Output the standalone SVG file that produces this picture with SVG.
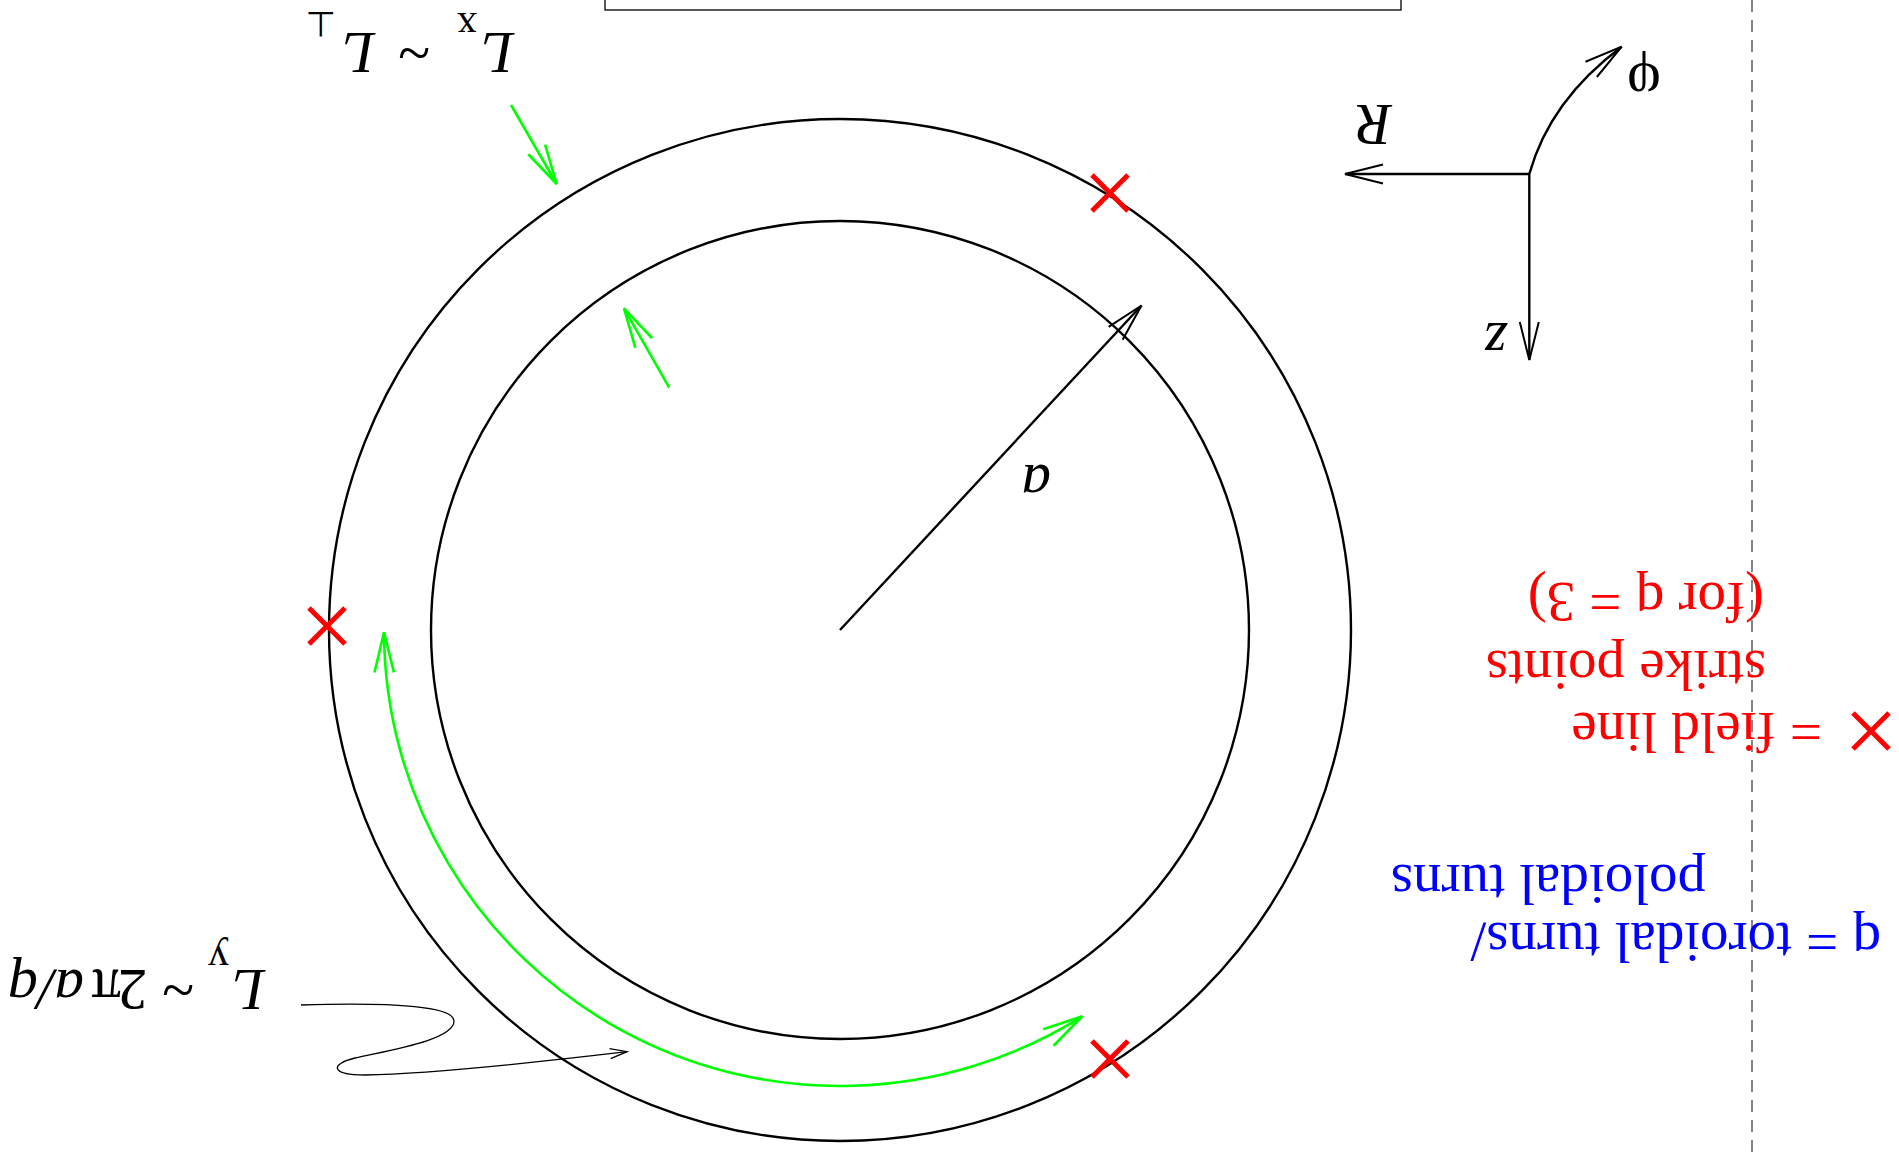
<svg xmlns="http://www.w3.org/2000/svg" width="1899" height="1152" viewBox="0 0 1899 1152">
<defs>
<style>
.blk{fill:none;stroke:#000;stroke-width:2.4}
.thin{fill:none;stroke:#000;stroke-width:1.3}
.grn{fill:none;stroke:#00ff00;stroke-width:2.6}
.xm{fill:none;stroke:#ff0000;stroke-width:5}
.t{font-family:"Liberation Serif","Times New Roman",serif;font-size:57px;fill:#000}
.m{font-size:59px}
.it{font-style:italic}
.red{fill:#ff0000}
.blue{fill:#0000ff}
</style>
<marker id="ab" markerUnits="userSpaceOnUse" viewBox="-42 -12 44 24" markerWidth="44" markerHeight="24" refX="0" refY="0" orient="auto"><path d="M-38,-9.5 L0,0 L-38,9.5" fill="none" stroke="#000" stroke-width="2"/></marker>
<marker id="ag" markerUnits="userSpaceOnUse" viewBox="-42 -12 44 24" markerWidth="44" markerHeight="24" refX="0" refY="0" orient="auto-start-reverse"><path d="M-40,-9.7 L0,0 L-40,9.7" fill="none" stroke="#00ff00" stroke-width="2.6"/></marker>
<marker id="as" markerUnits="userSpaceOnUse" viewBox="-20 -7 22 14" markerWidth="22" markerHeight="14" refX="0" refY="0" orient="auto"><path d="M-17,-5 L0,0 L-17,5" fill="none" stroke="#000" stroke-width="1.3"/></marker>
<g id="x"><path d="M-18,-18 L18,18 M-18,18 L18,-18"/></g>
</defs>
<rect width="1899" height="1152" fill="#fff"/>

<g id="frame-box"><rect x="605" y="-5" width="796" height="15" fill="none" stroke="#000" stroke-width="1.3"/></g>
<g id="axis-line"><path d="M1752,0 L1752,1152" fill="none" stroke="#444" stroke-width="1.3" stroke-dasharray="12 8"/></g>

<g id="outer-surface"><circle cx="840" cy="630" r="511" class="blk"/></g>
<g id="inner-surface"><circle cx="840" cy="630" r="409" class="blk"/></g>

<g id="strike-points" class="xm">
<use href="#x" x="1110" y="193"/>
<use href="#x" x="327" y="626"/>
<use href="#x" x="1110" y="1059"/>
</g>

<g id="connectors">
<path id="radius" class="blk" d="M840,630 L1141.5,305.5" marker-end="url(#ab)"/>
<path id="axis-R" class="blk" d="M1529.3,174 L1345,174" marker-end="url(#ab)"/>
<path id="axis-z" class="blk" d="M1529.3,174 L1529.3,360" marker-end="url(#ab)"/>
<path id="axis-phi" class="blk" d="M1529.3,174 Q1550,100 1621.7,46.7" marker-end="url(#ab)"/>
<path id="green-Lx" class="grn" d="M511,105 L556.7,184" marker-end="url(#ag)"/>
<path id="green-in" class="grn" d="M669.2,387.7 L624,308.3" marker-end="url(#ag)"/>
<path id="green-Ly" class="grn" d="M384,632.4 A456,456 0 0 0 1082.3,1016.3" marker-start="url(#ag)" marker-end="url(#ag)"/>
<path id="pointer-Ly" class="thin" d="M301,1005 C400,1002 454,1007 454,1021 C454,1040 390,1050 355,1058 C330,1064 330,1075 365,1075 C430,1074 540,1062 627,1051.7" marker-end="url(#as)"/>
</g>

<g id="legend-x" class="xm"><use href="#x" x="1871" y="731"/></g>

<g id="labels" transform="rotate(180 949.5 576)">
<text id="lbl-Ly" class="t m" y="182"><tspan class="it" x="1634">L</tspan><tspan x="1670" y="206" style="font-size:42px">y</tspan><tspan x="1705" y="182">~ 2</tspan><tspan x="1778">π</tspan><tspan class="it" x="1815">a/q</tspan></text>
<text id="lbl-Lx" class="t m" y="1119"><tspan class="it" x="1385">L</tspan><tspan x="1422" y="1139" style="font-size:40px">x</tspan><tspan x="1469" y="1119">~</tspan><tspan class="it" x="1524">L</tspan><tspan x="1563" y="1140" style="font-family:'DejaVu Sans',sans-serif;font-size:35px">⊥</tspan></text>
<text id="lbl-a" class="t m it" x="848" y="687">a</text>
<text id="lbl-R" class="t m it" x="507" y="1047">R</text>
<text id="lbl-phi" class="t m" x="238" y="1088">φ</text>
<text id="lbl-z" class="t m it" x="392" y="829">z</text>
<text class="t red" x="77" y="439">= field line</text>
<text class="t red" x="133" y="501">strike points</text>
<text class="t red" x="135" y="569">(for q = 3)</text>
<text class="t blue" x="18" y="229">q = toroidal turns/</text>
<text class="t blue" x="193" y="287">poloidal turns</text>
</g>
</svg>
